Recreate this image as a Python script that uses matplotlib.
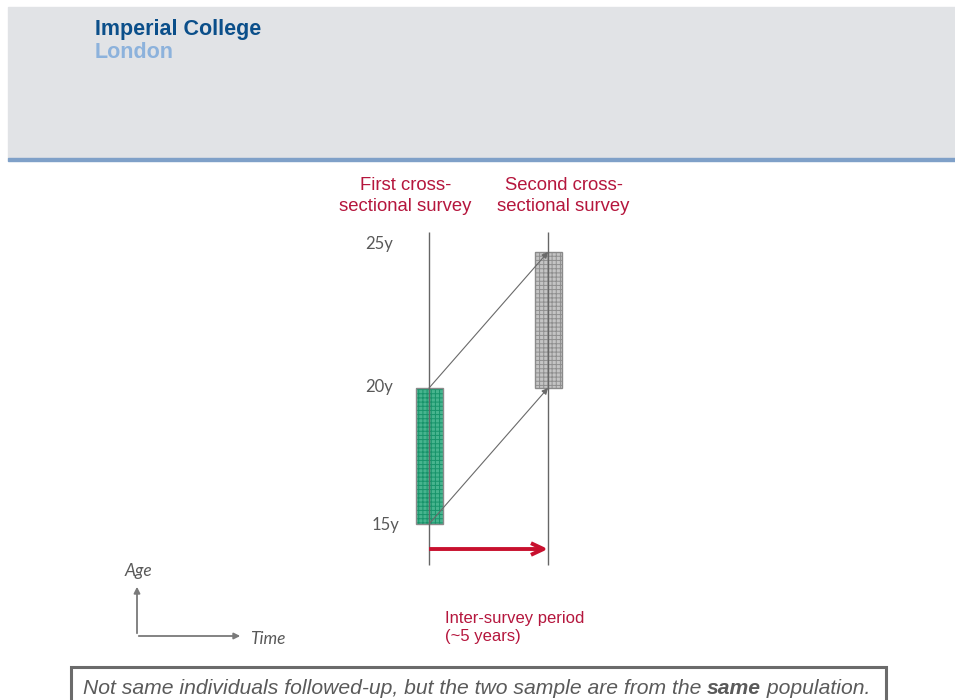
import matplotlib
matplotlib.use('Agg')
import matplotlib.pyplot as plt
from matplotlib.patches import Rectangle, FancyArrowPatch

# ── Data ────────────────────────────────────────────────────────────────────
SURVEY_TIMES = [0, 5]                     # years since first survey
SURVEY_NAMES = ['First cross-\nsectional survey', 'Second cross-\nsectional survey']
AGE_LOW = [15, 20]                        # youngest age sampled in each survey
AGE_HIGH = [20, 25]                       # oldest age sampled in each survey
AGE_TICKS = [15, 20, 25]
AGE_LABELS = ['15y', '20y', '25y']
PERIOD_LABEL = 'Inter-survey period\n(~5 years)'
NOTE = ['Not same individuals followed-up, but the two sample are from the ',
        'same', ' population.']

RED = '#b5163d'
GREY = '#595959'
BAR_FACE = ['#47b48e', '#c4c4c4']
BAR_HATCH = ['#17936a', '#8f8f8f']

plt.rcParams['hatch.linewidth'] = 0.7
fig = plt.figure(figsize=(9.55, 7.0), dpi=100, facecolor='white')

# ── Header band ─────────────────────────────────────────────────────────────
fig.patches.append(Rectangle((8 / 955, 1 - 158 / 700), 1, 151 / 700,
                             transform=fig.transFigure, color='#e1e3e6', zorder=0))
fig.patches.append(Rectangle((8 / 955, 1 - 161 / 700), 1, 3 / 700,
                             transform=fig.transFigure, color='#7fa0c8', zorder=0))
fig.text(95 / 955, 1 - 30 / 700, 'Imperial College', family='Liberation Sans',
         fontweight='bold', fontsize=15.5, color='#0b4f8a', va='center')
fig.text(95 / 955, 1 - 53 / 700, 'London', family='Liberation Sans',
         fontweight='bold', fontsize=15.5, color='#8cb2dc', va='center')

# ── Diagram axes (time in years, age in years) ─────────────────────────────
ax = fig.add_axes([0, 0, 1, 1])
ax.set_xlim(-18.03, 22.10)
ax.set_ylim(8.53, 34.26)
ax.axis('off')

ax.vlines(SURVEY_TIMES, min(AGE_LOW) - 1.5, max(AGE_HIGH) + 0.74,
          color='#666666', lw=1.0, zorder=3)

for t, lo, hi, fc, hc in zip(SURVEY_TIMES, AGE_LOW, AGE_HIGH, BAR_FACE, BAR_HATCH):
    ax.bar(t + 0.03, hi - lo, bottom=lo, width=1.12, color=fc,
           edgecolor=hc, hatch='++++', linewidth=0, zorder=2)
    ax.bar(t + 0.03, hi - lo, bottom=lo, width=1.12, fill=False,
           edgecolor='#8a8a8a', linewidth=1.0, zorder=2)

# each age group of the first survey ages 5 years by the second survey
shift = SURVEY_TIMES[1] - SURVEY_TIMES[0]
for a in (AGE_LOW[0], AGE_HIGH[0]):
    ax.annotate('', xy=(SURVEY_TIMES[1], a + shift), xytext=(SURVEY_TIMES[0], a),
                arrowprops=dict(arrowstyle='-|>', color='#6a6a6a', lw=0.8,
                                mutation_scale=9, shrinkA=0, shrinkB=0),
                zorder=4)

for name, t, x_off in zip(SURVEY_NAMES, SURVEY_TIMES, [-1.0, 0.65]):
    ax.text(t + x_off, max(AGE_HIGH) + 2.05, name, ha='center', va='center',
            family='Liberation Sans', fontsize=13.3, color=RED, linespacing=1.3)

for a, lab, x_off, y_off in zip(AGE_TICKS, AGE_LABELS, [-1.25, -1.5, -1.5],
                                [-0.05, 0.05, 0.28]):
    ax.text(SURVEY_TIMES[0] + x_off, a + y_off, lab,
            ha='right', va='center', family='Lato', fontsize=12, color=GREY)

# inter-survey period arrow
ax.annotate('', xy=(SURVEY_TIMES[1], min(AGE_LOW) - 0.92),
            xytext=(SURVEY_TIMES[0], min(AGE_LOW) - 0.92),
            arrowprops=dict(arrowstyle='->,head_length=0.9,head_width=0.42',
                            color='#c8102e', lw=2.8, shrinkA=0, shrinkB=0,
                            capstyle='butt'),
            zorder=5)
ax.text(SURVEY_TIMES[0] + 0.68, min(AGE_LOW) - 3.8, PERIOD_LABEL, ha='left',
        va='center', family='Liberation Sans', fontsize=12, color=RED,
        linespacing=1.2)

# ── Age / Time key ──────────────────────────────────────────────────────────
fig.add_artist(FancyArrowPatch(
    (137 / 955, 1 - 636 / 700), (137 / 955, 1 - 584 / 700),
    transform=fig.transFigure, arrowstyle='-|>', mutation_scale=9,
    color='#7a7a7a', lw=1.3))
fig.add_artist(FancyArrowPatch(
    (136 / 955, 1 - 636 / 700), (243 / 955, 1 - 636 / 700),
    transform=fig.transFigure, arrowstyle='-|>', mutation_scale=9,
    color='#7a7a7a', lw=1.3))
fig.text(138 / 955, 1 - 571 / 700, 'Age', family='Lato', style='italic',
         fontsize=12.5, color=GREY, ha='center', va='center')
fig.text(250 / 955, 1 - 639 / 700, 'Time', family='Lato', style='italic',
         fontsize=12.5, color=GREY, ha='left', va='center')

# ── Note box ────────────────────────────────────────────────────────────────
fig.patches.append(Rectangle((71 / 955, -0.05), 815 / 955, 0.05 + 33 / 700,
                             transform=fig.transFigure, fill=False,
                             edgecolor='#6b6b6b', lw=2.2, zorder=5))
renderer = fig.canvas.get_renderer()
x = 83 / 955
for piece, weight in zip(NOTE, ['normal', 'bold', 'normal']):
    t = fig.text(x, 1 - 688 / 700, piece, family='Liberation Sans', style='italic',
                 fontweight=weight, fontsize=15.2, color='#5a5a5a', va='center')
    x += t.get_window_extent(renderer).width / fig.bbox.width

fig.savefig('out.png', dpi=100)
